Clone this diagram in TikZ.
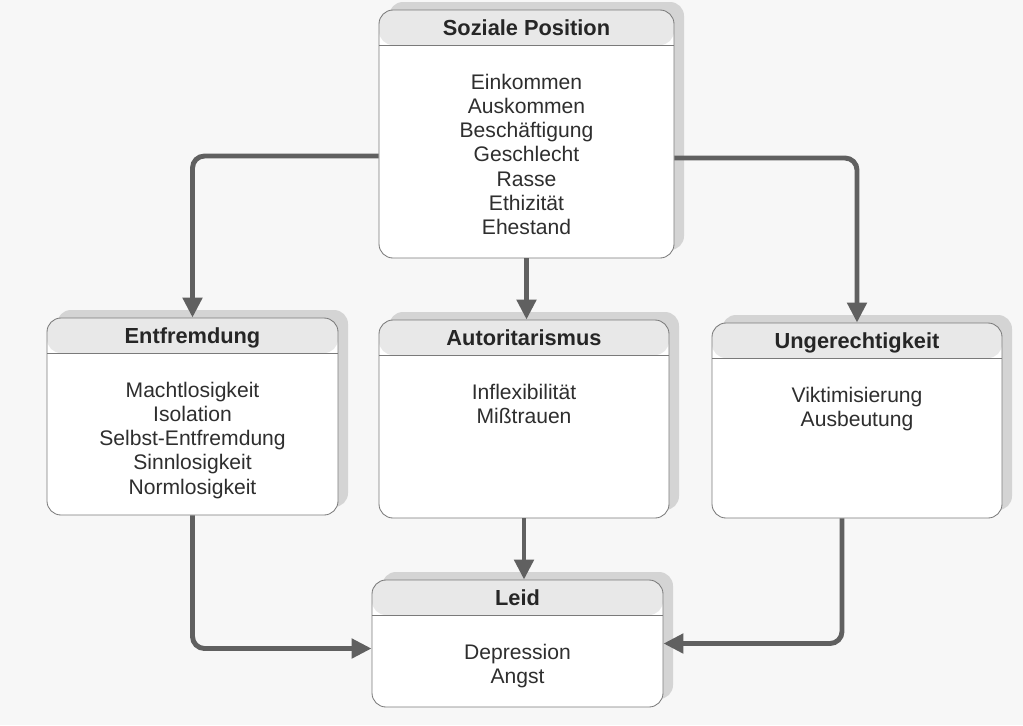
\documentclass[tikz,border=0pt]{standalone}
\usepackage{fontspec}
\setmainfont{Liberation Sans}
\usetikzlibrary{positioning,arrows.meta,shadows}

\definecolor{bggray}{HTML}{F7F7F7}
\definecolor{headgray}{HTML}{E8E8E8}
\definecolor{shadowgray}{HTML}{D4D4D4}
\definecolor{boxline}{HTML}{7A7A7A}
\definecolor{arrowgray}{HTML}{606060}
\definecolor{textgray}{HTML}{2E2E2E}

\newlength{\pxu}
\setlength{\pxu}{0.025cm}

\tikzset{
  box/.style={draw=boxline, line width=0.6pt, rounded corners=14\pxu, fill=white, inner sep=0pt,
    drop shadow={shadow xshift=10\pxu, shadow yshift=8\pxu, fill=shadowgray, opacity=1},
    path picture={
      \fill[headgray] (path picture bounding box.north west) rectangle ([yshift=-35\pxu]path picture bounding box.north east);
      \draw[boxline, line width=0.6pt] ([yshift=-35\pxu]path picture bounding box.north west) -- ([yshift=-35\pxu]path picture bounding box.north east);
    }},
  titel/.style={font=\fontsize{15.5}{18}\selectfont\bfseries, text=black!85, inner sep=0pt, text height=11pt, text depth=3pt},
  liste/.style={font=\fontsize{15}{17.2}\selectfont, text=textgray, inner sep=0pt, align=center},
  pfeil/.style={draw=arrowgray, line width=3.5pt, rounded corners=0.3cm,
    -{Triangle[length=0.5cm, width=0.475cm]}},
}

\begin{document}
\begin{tikzpicture}[x=0.025cm, y=-0.025cm]
  \fill[bggray] (0,0) rectangle (1023,725);

  % Soziale Position
  \node[box, minimum width=295\pxu, minimum height=248\pxu] (sp) at (526.5,134) {};
  \node[titel] (sp-t) at ([yshift=-20\pxu]sp.north) {Soziale Position};
  \node[liste, below=34\pxu of sp-t] (sp-l) {Einkommen\\Auskommen\\Beschäftigung\\Geschlecht\\Rasse\\Ethizität\\Ehestand};

  % Entfremdung
  \node[box, minimum width=291\pxu, minimum height=197\pxu] (ent) at (192.5,416.5) {};
  \node[titel] (ent-t) at ([yshift=-20\pxu]ent.north) {Entfremdung};
  \node[liste, below=34\pxu of ent-t] (ent-l) {Machtlosigkeit\\Isolation\\Selbst-Entfremdung\\Sinnlosigkeit\\Normlosigkeit};

  % Autoritarismus
  \node[box, minimum width=290\pxu, minimum height=198\pxu] (aut) at (524,419) {};
  \node[titel] (aut-t) at ([yshift=-20\pxu]aut.north) {Autoritarismus};
  \node[liste, below=34\pxu of aut-t] (aut-l) {Inflexibilität\\Mißtrauen};

  % Ungerechtigkeit
  \node[box, minimum width=290\pxu, minimum height=195\pxu] (ung) at (857,420.5) {};
  \node[titel] (ung-t) at ([yshift=-20\pxu]ung.north) {Ungerechtigkeit};
  \node[liste, below=34\pxu of ung-t] (ung-l) {Viktimisierung\\Ausbeutung};

  % Leid
  \node[box, minimum width=291\pxu, minimum height=127\pxu] (leid) at (517.5,643.5) {};
  \node[titel] (leid-t) at ([yshift=-20\pxu]leid.north) {Leid};
  \node[liste, below=34\pxu of leid-t] (leid-l) {Depression\\Angst};

  % Pfeile
  \draw[pfeil] ([yshift=-22\pxu]sp.west) -| (ent.north);
  \draw[pfeil] (sp.south) -- (sp.south |- aut.north);
  \draw[pfeil] ([yshift=-24\pxu]sp.east) -| (ung.north);
  \draw[pfeil] (ent.south) |- ([yshift=-5\pxu]leid.west);
  \draw[pfeil] (aut.south) -- (aut.south |- leid.north);
  \draw[pfeil] ([xshift=-15\pxu]ung.south) |- (leid.east);
\end{tikzpicture}
\end{document}
